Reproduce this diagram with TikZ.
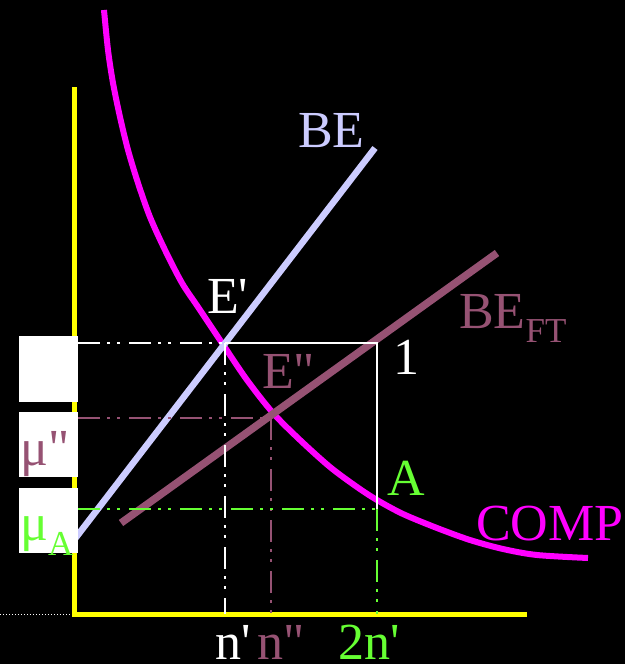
\documentclass[tikz,border=0pt]{standalone}
\usepackage{fontspec}
\setmainfont{Liberation Serif}
\definecolor{cmag}{RGB}{255,0,255}
\definecolor{clav}{RGB}{204,204,255}
\definecolor{cmauve}{RGB}{150,82,115}
\definecolor{cgreen}{RGB}{102,255,51}
\definecolor{cyel}{RGB}{255,255,0}
\newcommand{\qs}{\textquotesingle}
\newcommand{\qd}{\textquotedbl}
\begin{document}
\begin{tikzpicture}[x=1pt,y=-1pt,
  lab/.style={inner sep=0pt,anchor=base west,font=\fontsize{52}{60}\selectfont},
  ddot/.style={line width=2pt,dash pattern=on 22pt off 7pt on 3pt off 7pt on 3pt off 9pt},
  lblbox/.style={fill=white,draw=none}]
\fill[black] (0,0) rectangle (625,664);
\useasboundingbox (0,0) rectangle (625,664);
% key points
\coordinate (O) at (74.5,614.5);
\coordinate (Ytop) at (74.5,87);
\coordinate (Xend) at (527,614.5);
\coordinate (Lft) at (0,614.5);
\coordinate (Ep) at (225,343);
\coordinate (Epp) at (271,418);
\coordinate (Apt) at (377,509);
\coordinate (One) at (377,343);
\coordinate (EpL) at (78,343);
\coordinate (EppL) at (78,418);
\coordinate (AptL) at (78,509);
\coordinate (EpB) at (225,614);
\coordinate (EppB) at (271,614);
\coordinate (AptB) at (377,614);
\coordinate (BEa) at (74,540);
\coordinate (BEb) at (375,148);
\coordinate (FTa) at (121,523);
\coordinate (FTb) at (497,253);
% axes
\draw[white,line width=1pt,dotted] (Lft) -- (O);
\draw[cyel,line width=5pt] (Ytop) -- (O) -- (Xend);
% curves
\draw[cmag,line width=6pt] plot[smooth] coordinates {(104,10) (108,50) (113,83) (120,117) (128,150) (138,183) (150,217) (165,250) (182,283) (198,307) (222,343) (247,380) (273,413) (300,440) (330,467) (357,487) (377,500) (403,514) (437,528) (470,540) (503,549) (537,555) (588,558)};
\draw[clav,line width=6.5pt] (BEa) -- (BEb);
\draw[cmauve,line width=7.5pt] (FTa) -- (FTb);
% guide lines
\draw[white,ddot] (EpL) -- (Ep);
\draw[white,ddot] (Ep) -- (EpB);
\draw[white,line width=1.5pt] (Ep) -- (One) -- (Apt);
\draw[cmauve,ddot] (EppL) -- (Epp);
\draw[cmauve,ddot] (Epp) -- (EppB);
\draw[cgreen,ddot] (AptL) -- (Apt);
\draw[cgreen,ddot] (Apt) -- (AptB);
% label boxes
\path[lblbox] (19,336) rectangle (78,402);
\path[lblbox] (19,412) rectangle (78,477);
\path[lblbox] (19,488) rectangle (78,553);
% labels
\node[lab,text=clav] (lBE) at (298,147) {BE};
\node[lab,text=white] (lEp) at (207,313) {E\qs};
\node[lab,text=cmauve] (lEpp) at (262,388) {E\qd};
\node[lab,text=white] (lOne) at (393,374) {1};
\node[lab,text=cmauve] (lBEFT) at (459,328) {BE\raisebox{-14pt}{\fontsize{35}{40}\selectfont FT}};
\node[lab,text=cgreen] (lA) at (387,495) {A};
\node[lab,text=cmag] (lCOMP) at (476,540) {COMP};
\node[lab,text=white,text depth=0pt] (lnp) at (215,659) {n\qs};
\node[lab,text=cmauve,text depth=0pt] (lnpp) at (257,659) {n\qd};
\node[lab,text=cgreen,text depth=0pt] (l2np) at (338,659) {2n\qs};
\node[lab,text=cmauve] (lmupp) at (20,465) {μ\qd};
\node[lab,text=cgreen] (lmuA) at (20,540) {μ\raisebox{-15pt}{\fontsize{35}{40}\selectfont A}};
\end{tikzpicture}
\end{document}
